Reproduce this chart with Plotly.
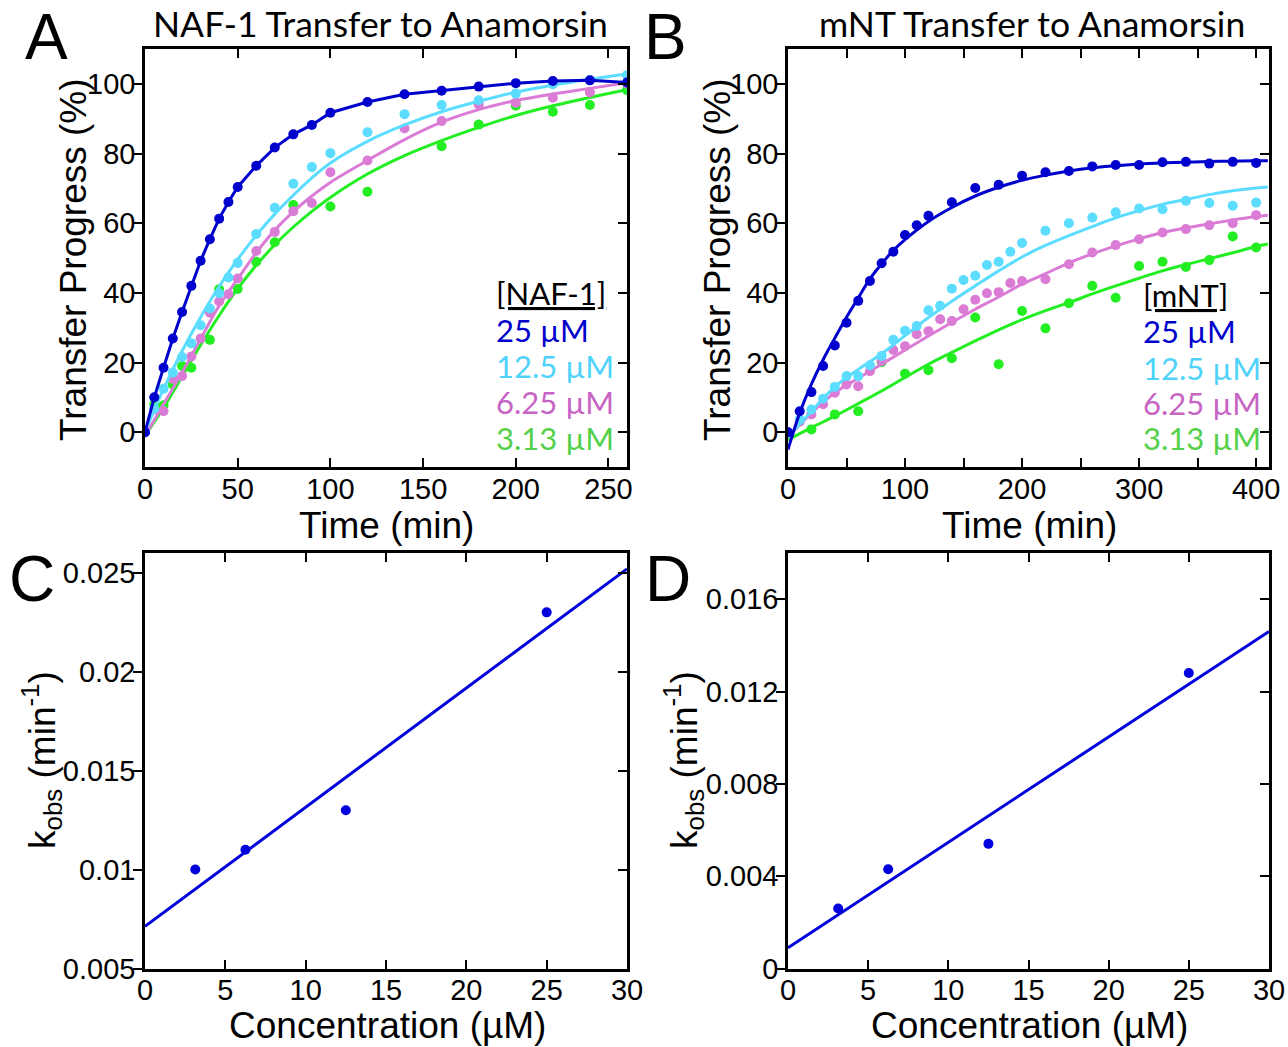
import plotly.graph_objects as go

# ---------------- Panel A: NAF-1 transfer (time in min, progress in %) ----------------
tA = [0, 5, 10, 15, 20, 25, 30, 35, 40, 45, 50, 60, 70, 80, 90, 100, 120, 140, 160, 180, 200, 220, 240, 260]
naf_25 = [0, 10, 18.5, 26.9, 34.5, 42, 49.2, 55.4, 61.3, 66.1, 70.4, 76.5, 81.7, 85.5, 88.2, 91.7,
          94.8, 97, 98, 99.2, 100.2, 100.8, 101, 100.4]
naf_12 = [0, 6.7, 12.5, 17.1, 21.6, 25.5, 30.7, 35.5, 39.9, 44.4, 48.6, 56.9, 64.4, 71.3, 76.1, 80.1,
          86.1, 91.3, 93.9, 95.3, 97.2, 99.9, 101.1, 102.5]
naf_6 = [0, 6.5, 6.0, 15.3, 16.1, 21.7, 26.9, 34.3, 37.5, 39.6, 44.1, 52, 57.5, 63.4, 65.8, 74.6,
         78, 87.2, 89.3, 94.1, 94.6, 96, 97.5, 100]
tA_green = [0, 5, 10, 15, 20, 25, 35, 40, 50, 60, 70, 80, 100, 120, 160, 180, 200, 220, 240, 260]
naf_3 = [0, 8, 7.7, 13.7, 19, 18.5, 26.5, 41, 41.1, 48.9, 54.5, 65.2, 64.8, 69, 82.1, 88.3, 93.7, 92, 93.9, 98.2]

tA_fit = [0, 10, 20, 30, 40, 50, 60, 70, 80, 90, 100, 120, 140, 160, 180, 200, 220, 240, 260]
naf_12_fit = [0, 12.4, 23.3, 33, 41.8, 49.6, 56.5, 62.6, 68, 73, 77.3, 83.5, 88.2, 92, 95, 97.6, 99.6, 101.3, 102.8]
naf_6_fit = [-1, 8, 17.1, 26.8, 36.3, 44, 51.5, 58, 63.3, 67.8, 71.7, 78, 84, 89, 92.6, 95.2, 97.1, 98.7, 100.3]
naf_3_fit = [-1, 7, 16, 25, 33.5, 41.2, 47.9, 53.8, 58.9, 63.4, 67.4, 74.1, 79.4, 83.7, 87.5, 90.9, 93.7, 96.1, 98.3]

# ---------------- Panel B: mNT transfer ----------------
tB_blue = [0, 10, 20, 30, 40, 50, 60, 70, 80, 90, 100, 110, 120, 140, 160, 180, 200, 220, 240, 260,
           280, 300, 320, 340, 360, 380, 400]
mnt_25 = [0, 6, 11.5, 19, 24.9, 31.4, 37.7, 43.4, 48.5, 51.8, 56.6, 59.4, 62.1, 66, 70.1, 71, 73.6,
          74.6, 75, 76.3, 76.7, 76.7, 77.5, 77.6, 77.1, 77.6, 77.3]
tB = [0, 10, 20, 30, 40, 50, 60, 70, 80, 90, 100, 110, 120, 130, 140, 150, 160, 170, 180, 190, 200,
      220, 240, 260, 280, 300, 320, 340, 360, 380, 400]
mnt_12 = [0, 3.6, 6.5, 9.6, 13.0, 16.1, 16.1, 19.2, 21.9, 26.5, 29.1, 30.5, 35.0, 36.3, 41.2, 43.7,
          44.9, 48.0, 48.9, 51.8, 54.3, 57.8, 60.0, 61.6, 63.1, 64.2, 64.0, 66.4, 65.8, 65.0, 65.9]
mnt_6 = [0, 3.0, 5.1, 8.0, 11.3, 13.7, 13.2, 17.5, 20.4, 23.6, 24.7, 28.1, 29.0, 32.4, 31.9, 35.3,
         38.0, 39.9, 40.2, 42.8, 43.4, 43.9, 48.2, 51.6, 53.7, 55.4, 57.3, 58.3, 59.4, 60.0, 62.3]
tB_green = [0, 20, 40, 60, 80, 100, 120, 140, 160, 180, 200, 220, 240, 260, 280, 300, 320, 340, 360, 380, 400]
mnt_3 = [0, 0.8, 5.1, 6.0, 20.1, 16.8, 17.8, 21.2, 32.9, 19.5, 34.8, 29.8, 37.0, 42.0, 38.6, 47.7,
         48.9, 47.4, 49.4, 56.2, 53.0]

tB_fit_blue = [0, 10, 20, 30, 40, 50, 60, 70, 80, 90, 100, 120, 140, 160, 180, 200, 220, 240, 260,
               280, 300, 320, 340, 360, 380, 400, 410]
mnt_25_fit = [-5, 5.5, 13.8, 20.8, 27, 33, 38.5, 44, 48.3, 52.2, 55.3, 60.5, 64.5, 67.8, 70.3, 72.3,
              73.8, 75, 75.9, 76.5, 77, 77.3, 77.5, 77.7, 77.8, 77.9, 77.9]
tB_fit = [0, 20, 40, 60, 80, 100, 120, 140, 160, 180, 200, 220, 240, 260, 280, 300, 320, 340, 360, 380, 400, 410]
mnt_12_fit = [-1.5, 6, 13, 18, 22.5, 27.7, 32.9, 37.6, 42, 46.3, 50.3, 53.6, 56.4, 59, 61.5, 63.6,
              65.4, 66.8, 68.2, 69.3, 70.1, 70.4]
mnt_6_fit = [-1.5, 5.5, 11.3, 15.5, 19.5, 23.6, 27.6, 31.5, 35.3, 38.8, 42.5, 45.5, 48.6, 51.2, 53.5,
             55.5, 57.3, 58.6, 59.8, 60.9, 61.9, 62.3]
mnt_3_fit = [-2.2, 1.3, 4.6, 8.2, 11.8, 15.7, 19.5, 22.9, 26.2, 29.4, 32.3, 34.9, 37.2, 39.7, 42, 44.2,
             46.3, 48.1, 49.8, 51.5, 53.3, 54]

# ---------------- Panels C / D: k_obs vs concentration ----------------
conc = [3.13, 6.25, 12.5, 25]
kobs_naf = [0.010, 0.011, 0.013, 0.023]
kobs_mnt = [0.0026, 0.0043, 0.0054, 0.0128]
fit_x = [0, 30]
kobs_naf_fit = [0.00713, 0.0252]
kobs_mnt_fit = [0.0009, 0.0146]

legend_labels = ["25 µM", "12.5 µM", "6.25 µM", "3.13 µM"]

# ---------------- styles ----------------
C_BLUE = "#0000CD"
C_CYAN = "#5CDCFF"
C_PINK = "#DA7CD6"
C_GREEN = "#22EE22"
T_COLORS = ["#0000CC", "#4FD3FA", "#C765C5", "#55D04A"]
C_LINE = "#0000DD"
MS = 10
LW = 3

W, H = 1288, 1047
def px(x):
    return x / W
def py(y):
    return 1 - y / H

A_x = [px(145), px(627)]
B_x = [px(788), px(1269)]
top_y = [py(467), py(49)]
bot_y = [py(968.5), py(553)]

fig = go.Figure()

def add(x, y, color, xa, ya, mode, shape=None):
    kw = dict(x=x, y=y, xaxis=xa, yaxis=ya, mode=mode, showlegend=False, hoverinfo="skip")
    if "lines" in mode:
        kw["line"] = dict(color=color, width=LW, shape=shape or "linear")
    if "markers" in mode:
        kw["marker"] = dict(color=color, size=MS)
    fig.add_trace(go.Scatter(**kw))

# Panel A (draw order: green, pink, cyan, blue)
add(tA_fit, naf_3_fit, C_GREEN, "x", "y", "lines", "spline")
add(tA_green, naf_3, C_GREEN, "x", "y", "markers")
add(tA_fit, naf_6_fit, C_PINK, "x", "y", "lines", "spline")
add(tA, naf_6, C_PINK, "x", "y", "markers")
add(tA_fit, naf_12_fit, C_CYAN, "x", "y", "lines", "spline")
add(tA, naf_12, C_CYAN, "x", "y", "markers")
add(tA, naf_25, C_BLUE, "x", "y", "lines+markers")

# Panel B
add(tB_fit, mnt_3_fit, C_GREEN, "x2", "y2", "lines", "spline")
add(tB_green, mnt_3, C_GREEN, "x2", "y2", "markers")
add(tB_fit, mnt_6_fit, C_PINK, "x2", "y2", "lines", "spline")
add(tB, mnt_6, C_PINK, "x2", "y2", "markers")
add(tB_fit, mnt_12_fit, C_CYAN, "x2", "y2", "lines", "spline")
add(tB, mnt_12, C_CYAN, "x2", "y2", "markers")
add(tB_fit_blue, mnt_25_fit, C_BLUE, "x2", "y2", "lines", "spline")
add(tB_blue, mnt_25, C_BLUE, "x2", "y2", "markers")

# Panels C, D
add(fit_x, kobs_naf_fit, C_LINE, "x3", "y3", "lines")
add(conc, kobs_naf, C_LINE, "x3", "y3", "markers")
add(fit_x, kobs_mnt_fit, C_LINE, "x4", "y4", "lines")
add(conc, kobs_mnt, C_LINE, "x4", "y4", "markers")

ARIAL = "Liberation Sans, Arial, sans-serif"
TICK_FONT = dict(family=ARIAL, size=29, color="black")
AX_FONT = dict(family=ARIAL, size=37, color="black")
CAL_FONT = "Lato, sans-serif"

def xax(domain, anchor, rng, tickvals, ticktext, minor=None):
    d = dict(domain=domain, anchor=anchor, range=rng, tickvals=tickvals, ticktext=ticktext,
             ticks="inside", ticklen=9, tickwidth=2, tickcolor="black", mirror="ticks",
             showline=True, linewidth=2.5, linecolor="black", showgrid=False, zeroline=False,
             tickfont=TICK_FONT, fixedrange=True, automargin=False, ticklabelstandoff=-6)
    if minor:
        d["minor"] = dict(tickvals=minor, ticks="inside", ticklen=9, tickwidth=2,
                          tickcolor="black", showgrid=False)
    return d

def yax(domain, anchor, rng, tickvals, ticktext):
    return dict(domain=domain, anchor=anchor, range=rng, tickvals=tickvals, ticktext=ticktext,
                ticks="outside", ticklen=9, tickwidth=2, tickcolor="black", mirror=True,
                showline=True, linewidth=2.5, linecolor="black", showgrid=False, zeroline=False,
                tickfont=TICK_FONT, fixedrange=True, automargin=False, ticklabelstandoff=-8)

def yright(over, anchor, rng, tickvals):
    return dict(overlaying=over, side="right", anchor=anchor, range=rng, tickvals=tickvals,
                ticks="inside", ticklen=9, tickwidth=2, tickcolor="black", showticklabels=False,
                showline=False, showgrid=False, zeroline=False, fixedrange=True, automargin=False)

yA_ticks = [0, 20, 40, 60, 80, 100]
xA_ticks = [0, 50, 100, 150, 200, 250]
xB_ticks = [0, 100, 200, 300, 400]
xB_minor = [50, 150, 250, 350]
xC_ticks = [0, 5, 10, 15, 20, 25, 30]
yC_ticks = [0.005, 0.01, 0.015, 0.02, 0.025]
yC_text = ["0.005", "0.01", "0.015", "0.02", "0.025"]
yD_ticks = [0, 0.004, 0.008, 0.012, 0.016]
yD_text = ["0", "0.004", "0.008", "0.012", "0.016"]

layout = dict(
    width=W, height=H, margin=dict(l=0, r=0, t=0, b=0, autoexpand=False),
    paper_bgcolor="white", plot_bgcolor="white",
    xaxis=xax(A_x, "y", [0, 260], xA_ticks, [str(v) for v in xA_ticks]),
    yaxis=yax(top_y, "x", [-10, 110], yA_ticks, [str(v) for v in yA_ticks]),
    xaxis2=xax(B_x, "y2", [0, 411], xB_ticks, [str(v) for v in xB_ticks], xB_minor),
    yaxis2=yax(top_y, "x2", [-10, 110], yA_ticks, [str(v) for v in yA_ticks]),
    xaxis3=xax(A_x, "y3", [0, 30], xC_ticks, [str(v) for v in xC_ticks]),
    yaxis3=yax(bot_y, "x3", [0.005, 0.026], yC_ticks, yC_text),
    xaxis4=xax(B_x, "y4", [0, 30], xC_ticks, [str(v) for v in xC_ticks]),
    yaxis4=yax(bot_y, "x4", [0, 0.018], yD_ticks, yD_text),
    yaxis5=yright("y", "x", [-10, 110], yA_ticks),
    yaxis6=yright("y2", "x2", [-10, 110], yA_ticks),
    yaxis7=yright("y3", "x3", [0.005, 0.026], yC_ticks),
    yaxis8=yright("y4", "x4", [0, 0.018], yD_ticks),
)
fig.update_layout(**layout)

# empty traces so the right-hand tick axes are rendered
for ya, xa in [("y5", "x"), ("y6", "x2"), ("y7", "x3"), ("y8", "x4")]:
    fig.add_trace(go.Scatter(x=[None], y=[None], xaxis=xa, yaxis=ya, mode="markers",
                             showlegend=False, hoverinfo="skip"))

ann = []
def text(x, y, s, font, angle=0, xanchor="center"):
    ann.append(dict(x=px(x), y=py(y), xref="paper", yref="paper", text=s, showarrow=False,
                    font=font, textangle=angle, xanchor=xanchor, yanchor="middle"))

# panel letters
LET_FONT = dict(family=ARIAL, size=64, color="black")
text(46, 37, "A", LET_FONT)
text(665, 37, "B", LET_FONT)
text(32, 579, "C", LET_FONT)
text(668, 579, "D", LET_FONT)

# titles
TITLE_FONT = dict(family=CAL_FONT, size=35.5, color="black")
text(380.5, 24, "NAF-1 Transfer to Anamorsin", TITLE_FONT)
text(1031.5, 24, "mNT Transfer to Anamorsin", TITLE_FONT)

# axis titles
text(386, 525, "Time (min)", AX_FONT)
text(1029, 525, "Time (min)", AX_FONT)
text(73, 260, "Transfer Progress (%)", AX_FONT, -90)
text(717, 260, "Transfer Progress (%)", AX_FONT, -90)
text(387, 1025, "Concentration (µM)", AX_FONT)
text(1029, 1025, "Concentration (µM)", AX_FONT)
text(41, 760, "k<sub>obs</sub> (min<sup>-1</sup>)", AX_FONT, -90)
text(683, 760, "k<sub>obs</sub> (min<sup>-1</sup>)", AX_FONT, -90)

# in-plot legends
LEG_SIZE = 31
text(494, 293, "<u>[NAF-1]</u>", dict(family=CAL_FONT, size=LEG_SIZE, color="black"), xanchor="left")
text(1141, 295, "<u>[mNT]</u>", dict(family=CAL_FONT, size=LEG_SIZE, color="black"), xanchor="left")
ys_A = [330, 366.5, 402, 438]
ys_B = [331.5, 368, 403, 438]
for lab, col, ya_, yb_ in zip(legend_labels, T_COLORS, ys_A, ys_B):
    text(494, ya_, lab, dict(family=CAL_FONT, size=LEG_SIZE, color=col), xanchor="left")
    text(1141, yb_, lab, dict(family=CAL_FONT, size=LEG_SIZE, color=col), xanchor="left")

fig.update_layout(annotations=ann)
fig.write_html("out.html", config={"displayModeBar": False},
               post_script="document.body.style.margin='0px';document.body.style.overflow='hidden';")
